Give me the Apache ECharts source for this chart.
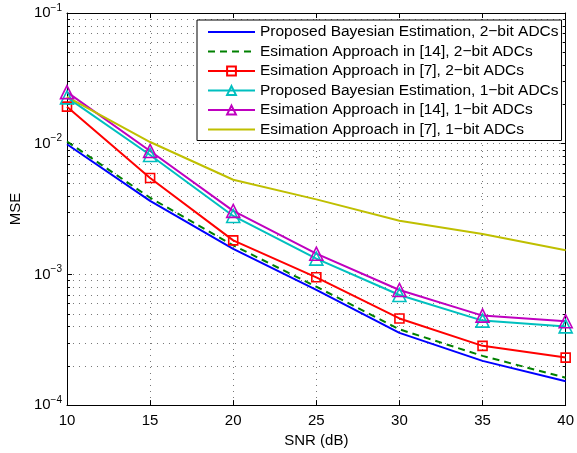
<!DOCTYPE html>
<html>
<head>
<meta charset="utf-8">
<script src="https://cdn.jsdelivr.net/npm/echarts@6/dist/echarts.min.js"></script>
<style>html,body{margin:0;padding:0;background:#fff;}#c{width:577px;height:453px;}</style>
</head>
<body>
<div id="c"></div>
<script>
const snr = [10, 15, 20, 25, 30, 35, 40];
const bayes2 = [0.0099, 0.00365, 0.00157, 0.00076, 0.000357, 0.000218, 0.000152];
const ref14_2 = [0.0104, 0.00386, 0.00167, 0.000805, 0.00038, 0.000238, 0.000162];
const ref7_2 = [0.0192, 0.00547, 0.00182, 0.00095, 0.00046, 0.000284, 0.000231];
const bayes1 = [0.0226, 0.0082, 0.0028, 0.00132, 0.000696, 0.000443, 0.0004];
const ref14_1 = [0.0248, 0.0088, 0.00306, 0.00144, 0.00076, 0.000484, 0.000438];
const ref7_1 = [0.0228, 0.0103, 0.0053, 0.00375, 0.00257, 0.00204, 0.00153];
const names = [
  'Proposed Bayesian Estimation, 2\u2212bit ADCs',
  'Esimation Approach in [14], 2\u2212bit ADCs',
  'Esimation Approach in [7], 2\u2212bit ADCs',
  'Proposed Bayesian Estimation, 1\u2212bit ADCs',
  'Esimation Approach in [14], 1\u2212bit ADCs',
  'Esimation Approach in [7], 1\u2212bit ADCs'
];
const minorY = [2e-4,3e-4,4e-4,5e-4,6e-4,7e-4,8e-4,9e-4,
                2e-3,3e-3,4e-3,5e-3,6e-3,7e-3,8e-3,9e-3,
                2e-2,3e-2,4e-2,5e-2,6e-2,7e-2,8e-2,9e-2];
const yMin = 1e-4, yMax = 1e-1;

const FONT = "'Liberation Sans', Arial, Helvetica, sans-serif";
const GRID_COLOR = '#777';
const pair = arr => snr.map((x, i) => [x, arr[i]]);
const dotted = {color: GRID_COLOR, width: 1, type: [1, 5]};

function lineSeries(name, data, color, opts) {
  const s = {
    name: name, type: 'line', data: pair(data),
    lineStyle: {color: color, width: 2, type: opts.dash || 'solid'},
    itemStyle: {color: color},
    symbol: 'none', z: 5, animation: false
  };
  if (opts.symbol) {
    s.symbol = opts.symbol;
    s.symbolSize = opts.size;
    s.showSymbol = true;
    s.itemStyle = {color: 'rgba(255,255,255,0)', borderColor: color, borderWidth: 1.6};
  }
  return s;
}

const noMarker = {color: 'rgba(0,0,0,0)', borderWidth: 0, borderColor: 'rgba(0,0,0,0)'};
const legendData = names.map((n, i) => (i === 0 || i === 1 || i === 5)
  ? {name: n, itemStyle: noMarker} : {name: n});

const chart = echarts.init(document.getElementById('c'), null, {renderer: 'canvas'});
const axisCommonX = {
  type: 'value', min: snr[0], max: snr[snr.length - 1], interval: 5,
  axisLine: {show: true, onZero: false, lineStyle: {color: '#000', width: 1}},
  axisTick: {show: true, inside: true, length: 5, lineStyle: {color: '#000'}}
};
const axisCommonY = {
  type: 'log', logBase: 10, min: yMin, max: yMax, splitNumber: 3,
  axisLine: {show: true, onZero: false, lineStyle: {color: '#000', width: 1}},
  axisTick: {show: true, inside: true, length: 5, lineStyle: {color: '#000'}}
};
chart.setOption({
  backgroundColor: '#fff',
  animation: false,
  textStyle: {fontFamily: FONT},
  grid: {left: 63, right: 10, top: 13, bottom: 43, containLabel: false},
  xAxis: [
    Object.assign({}, axisCommonX, {
      position: 'bottom',
      name: 'SNR (dB)', nameLocation: 'middle', nameGap: 23,
      nameTextStyle: {fontSize: 15, color: '#000', fontFamily: FONT},
      axisLabel: {fontSize: 15, color: '#000', margin: 8, fontFamily: FONT},
      splitLine: {show: true, lineStyle: dotted}
    }),
    Object.assign({}, axisCommonX, {
      position: 'top', axisLabel: {show: false}, splitLine: {show: false}
    })
  ],
  yAxis: [
    Object.assign({}, axisCommonY, {
      position: 'left',
      name: 'MSE', nameLocation: 'middle', nameGap: 42,
      nameTextStyle: {fontSize: 15, color: '#000', fontFamily: FONT},
      axisLabel: {
        margin: 5, color: '#000',
        formatter: function (v) {
          const e = Math.round(Math.log10(v));
          return '{b|10}{s|' + (e < 0 ? '\u2212' : '') + Math.abs(e) + '}';
        },
        rich: {
          b: {fontSize: 15, lineHeight: 20, fontFamily: FONT, color: '#000'},
          s: {fontSize: 10, lineHeight: 10, verticalAlign: 'top', fontFamily: FONT, color: '#000'}
        }
      },
      splitLine: {show: true, lineStyle: dotted}
    }),
    Object.assign({}, axisCommonY, {
      position: 'right', axisLabel: {show: false}, splitLine: {show: false}
    })
  ],
  legend: {
    data: legendData, orient: 'vertical', left: 197, top: 20,
    itemWidth: 47, itemHeight: 11, itemGap: 3.5,
    padding: [4, 3, 3, 10],
    borderColor: '#000', borderWidth: 1, backgroundColor: '#fff',
    textStyle: {fontSize: 15.5, color: '#000', fontFamily: FONT, lineHeight: 15},
    selectedMode: false, z: 10
  },
  series: [
    {
      type: 'custom', name: 'minorGrid', z: 1, silent: true,
      data: minorY.map(v => [snr[0], v]),
      encode: {x: 0, y: 1},
      renderItem: function (params, api) {
        const v = api.value(1);
        const a = api.coord([snr[0], v]);
        const b = api.coord([snr[snr.length - 1], v]);
        const y = Math.round(a[1]) + 0.5;
        return {
          type: 'group',
          children: [
            {type: 'line', shape: {x1: a[0], y1: y, x2: b[0], y2: y},
             style: {stroke: GRID_COLOR, lineWidth: 1, lineDash: [1, 5]}},
            {type: 'line', shape: {x1: a[0], y1: y, x2: a[0] + 3, y2: y},
             style: {stroke: '#000', lineWidth: 1}},
            {type: 'line', shape: {x1: b[0] - 3, y1: y, x2: b[0], y2: y},
             style: {stroke: '#000', lineWidth: 1}}
          ]
        };
      }
    },
    lineSeries(names[0], bayes2, '#0000ff', {}),
    lineSeries(names[1], ref14_2, '#008000', {dash: [7, 5]}),
    lineSeries(names[2], ref7_2, '#ff0000', {symbol: 'rect', size: 9}),
    lineSeries(names[3], bayes1, '#00bfbf', {symbol: 'triangle', size: 13}),
    lineSeries(names[4], ref14_1, '#bf00bf', {symbol: 'triangle', size: 13}),
    lineSeries(names[5], ref7_1, '#bfbf00', {})
  ]
});
</script>
</body>
</html>
